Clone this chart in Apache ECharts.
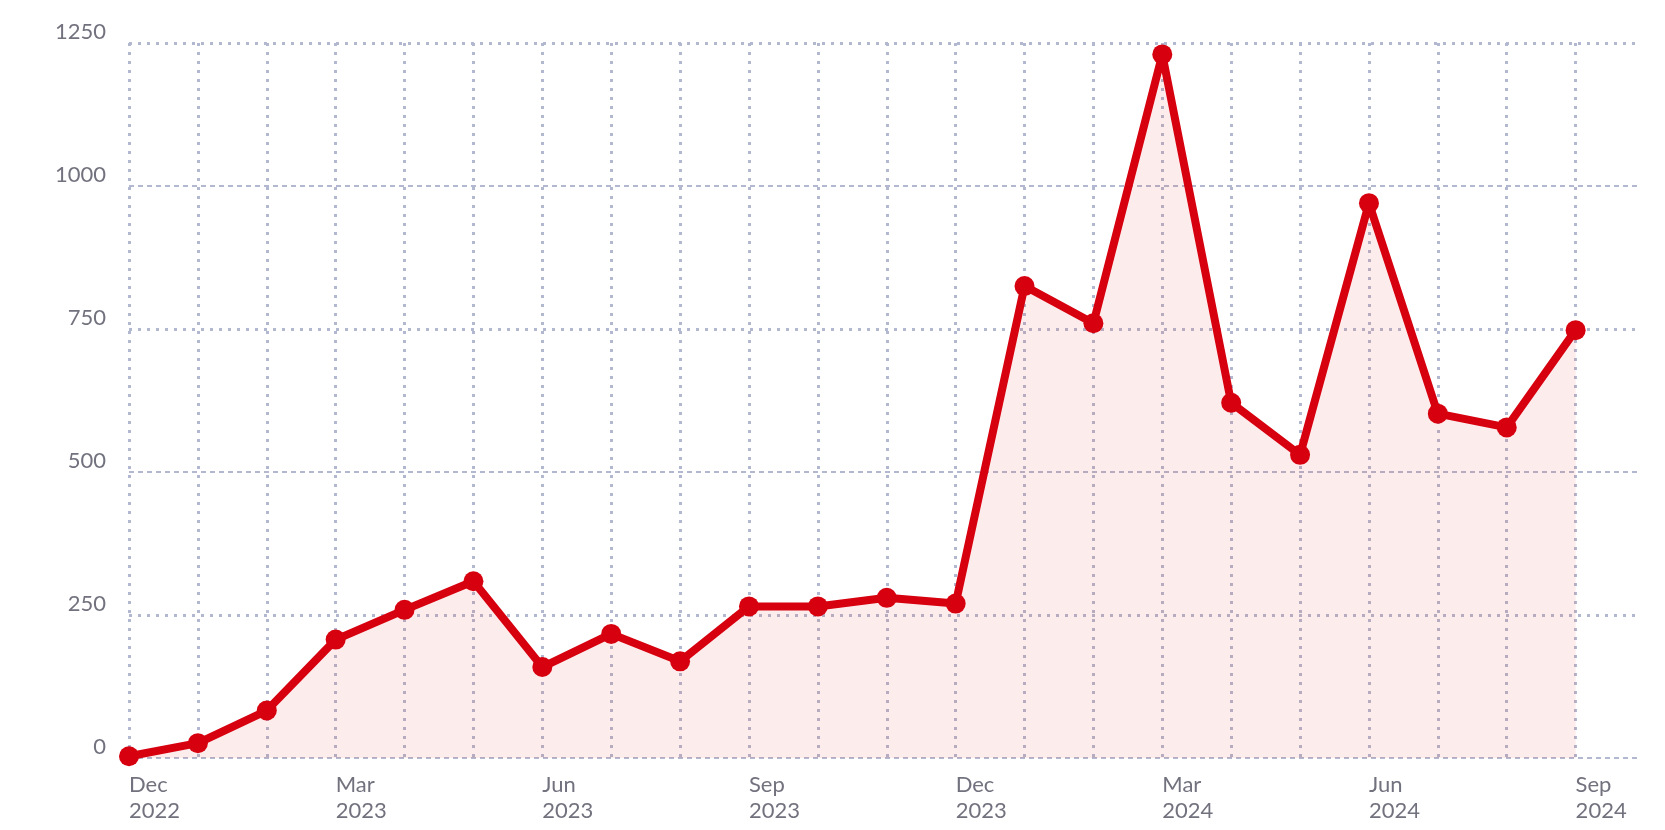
<!DOCTYPE html>
<html>
<head>
<meta charset="utf-8">
<script src="https://cdn.jsdelivr.net/npm/echarts@6/dist/echarts.min.js"></script>
<style>
html,body{margin:0;padding:0;background:#fff;}
#chart{width:1665px;height:830px;}
</style>
</head>
<body>
<div id="chart"></div>
<script>
const months = ['Dec 2022','Jan 2023','Feb 2023','Mar 2023','Apr 2023','May 2023','Jun 2023','Jul 2023','Aug 2023','Sep 2023','Oct 2023','Nov 2023',
  'Dec 2023','Jan 2024','Feb 2024','Mar 2024','Apr 2024','May 2024','Jun 2024','Jul 2024','Aug 2024','Sep 2024'];
const values = [3, 26, 83, 207, 259, 309, 159, 217, 169, 265, 265, 280, 270, 825, 760, 1230, 621, 530, 970, 602, 578, 748];
const yTicks = [0, 250, 500, 750, 1000, 1250];

const GRID = '#b2b8cf';
const TXT = '#72727f';
const FONT = 'Lato';

const chart = echarts.init(document.getElementById('chart'));
const xs = [];
for (let i = 0; i < months.length; i++) xs.push(GRID);
xs.push('rgba(0,0,0,0)');

chart.setOption({
  animation: false,
  grid: {left: 129, right: 26, top: 43, bottom: 72},
  xAxis: {
    type: 'value', min: 0, max: 21.92, interval: 1,
    axisLine: {show: false}, axisTick: {show: false},
    splitLine: {show: true, showMaxLine: false, lineStyle: {color: xs, width: 3, type: [3, 6]}},
    axisLabel: {
      showMaxLabel: true, showMinLabel: true, hideOverlap: false,
      align: 'left', margin: 14, fontFamily: FONT, fontSize: 22, lineHeight: 26, color: TXT,
      formatter: function (v) {
        if (Math.abs(v - Math.round(v)) > 1e-6) return '';
        const i = Math.round(v);
        if (i % 3 !== 0 || !months[i]) return '';
        return months[i].replace(' ', '\n');
      }
    }
  },
  yAxis: [{
    type: 'value', min: yTicks[0], max: yTicks[yTicks.length - 1], interval: 250,
    axisLine: {show: false}, axisTick: {show: false},
    axisLabel: {margin: 23, fontFamily: FONT, fontSize: 22, color: TXT, verticalAlign: 'bottom',
      formatter: function (v) { return String(v); }},
    splitLine: {show: true, lineStyle: {color: ['rgba(0,0,0,0)', GRID], width: 3, type: [3, 6]}}
  }, {
    type: 'value', min: yTicks[0], max: yTicks[yTicks.length - 1], interval: 250, position: 'left',
    axisLine: {show: false}, axisTick: {show: false}, axisLabel: {show: false},
    splitLine: {show: true, lineStyle: {color: [GRID, 'rgba(0,0,0,0)'], width: 2, type: [5, 4]}}
  }],
  series: [{
    type: 'line',
    yAxisIndex: 0,
    data: values.map((v, i) => [i, v]),
    symbol: 'circle', symbolSize: 20,
    itemStyle: {color: '#d7000f'},
    lineStyle: {color: '#d7000f', width: 8},
    areaStyle: {color: 'rgba(232,40,40,0.13)'},
    z: 5
  }]
});
</script>
</body>
</html>
